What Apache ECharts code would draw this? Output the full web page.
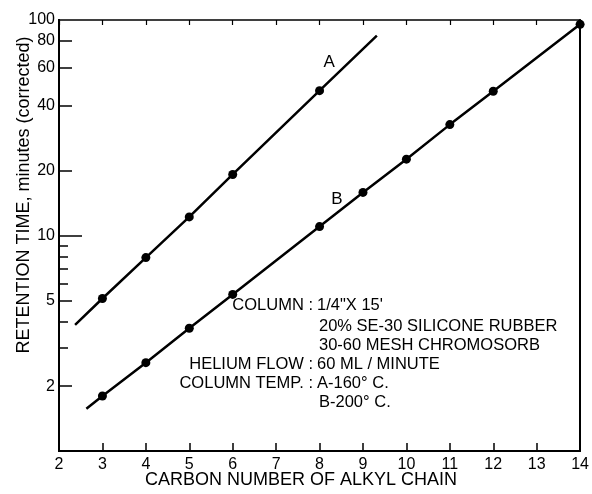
<!DOCTYPE html>
<html><head><meta charset="utf-8">
<script src="https://cdn.jsdelivr.net/npm/echarts@6/dist/echarts.min.js"></script>
<style>html,body{margin:0;padding:0;background:#fff}#c{width:592px;height:494px}</style>
</head><body><div id="c"></div>
<script>
// ---- data ----
const carbonA = [3, 4, 5, 6, 8];
const retentionA = [5.1, 7.9, 12.2, 19.2, 47];
const lineAStart = [2.37, 3.85];
const lineAEnd = [9.32, 84.6];

const carbonB = [3, 4, 5, 6, 8, 9, 10, 11, 12, 14];
const retentionB = [1.8, 2.57, 3.71, 5.33, 11.0, 15.85, 22.6, 32.7, 46.7, 95.5];
const lineBStart = [2.63, 1.57];

const yLabelValues = [2, 5, 10, 20, 40, 60, 80, 100];
const yMidTicks = [2, 5, 20, 40, 60, 80];
const yLongTicks = [10];
const yShortTicks = [3, 4, 6, 7, 8, 9];

const annoLabels = ['COLUMN :', 'HELIUM FLOW :', 'COLUMN TEMP. :'];
const annoValues = ['1/4"X 15\'', '20% SE-30 SILICONE RUBBER', '30-60 MESH CHROMOSORB', '60 ML / MINUTE', 'A-160° C.', 'B-200° C.'];

// ---- build ----
const FONT = 'Liberation Sans, Arial, sans-serif';
const AF = '16.5px ' + FONT;
function pts(xs, ys) { return xs.map((x, i) => [x, ys[i]]); }
const dataA = [{value: lineAStart, symbol: 'none'}].concat(pts(carbonA, retentionA)).concat([{value: lineAEnd, symbol: 'none'}]);
const dataB = [{value: lineBStart, symbol: 'none'}].concat(pts(carbonB, retentionB));

const chart = echarts.init(document.getElementById('c'), null, {renderer: 'canvas'});
function yAx(ticks, len, labels, pos) {
  return {
    type: 'log', logBase: 10, min: 1, max: 100, position: pos || 'left',
    axisLine: {show: true, lineStyle: {color: '#000', width: 2}},
    axisTick: {show: ticks.length > 0, inside: true, length: len, lineStyle: {color: '#000', width: 1.5}, customValues: ticks},
    axisLabel: labels ? {show: true, customValues: labels, color: '#000', fontSize: 16, fontFamily: FONT, margin: 4} : {show: false},
    splitLine: {show: false}, minorTick: {show: false}
  };
}
function txt(x, y, t, align) {
  return {type: 'text', x: x, y: y, style: {text: t, fill: '#000', font: AF, align: align, verticalAlign: 'middle'}};
}
const option = {
  animation: false,
  backgroundColor: '#fff',
  grid: {left: 59, right: 10, top: 20, bottom: 43},
  xAxis: [
    {type: 'value', min: 2, max: 14, interval: 1, position: 'bottom',
      axisLine: {show: true, lineStyle: {color: '#000', width: 2}},
      axisTick: {show: true, inside: true, length: 8, lineStyle: {color: '#000', width: 1.5}},
      axisLabel: {color: '#000', fontSize: 16, fontFamily: FONT, margin: 6},
      splitLine: {show: false}},
    {type: 'value', min: 2, max: 14, interval: 1, position: 'top',
      axisLine: {show: true, lineStyle: {color: '#000', width: 1.5}},
      axisTick: {show: true, inside: true, length: 5, lineStyle: {color: '#000', width: 1.2}},
      axisLabel: {show: false}, splitLine: {show: false}}
  ],
  yAxis: [
    yAx(yMidTicks, 13, yLabelValues),
    yAx(yLongTicks, 23, null),
    yAx(yShortTicks, 9, null),
    yAx([], 0, null, 'right')
  ],
  series: [
    {type: 'line', data: dataA, xAxisIndex: 0, yAxisIndex: 0,
      symbol: 'circle', symbolSize: 9, itemStyle: {color: '#000'},
      lineStyle: {color: '#000', width: 2.5}, silent: true,
      markPoint: {symbol: 'circle', symbolSize: 0, data: [{coord: [8.22, 63.8], value: 'A'}],
        label: {show: true, formatter: 'A', color: '#000', fontSize: 17, fontFamily: FONT}}},
    {type: 'line', data: dataB, xAxisIndex: 0, yAxisIndex: 0,
      symbol: 'circle', symbolSize: 9, itemStyle: {color: '#000'},
      lineStyle: {color: '#000', width: 2.5}, silent: true,
      markPoint: {symbol: 'circle', symbolSize: 0, data: [{coord: [8.4, 14.7], value: 'B'}],
        label: {show: true, formatter: 'B', color: '#000', fontSize: 17, fontFamily: FONT}}}
  ],
  graphic: [
    {type: 'text', x: 24, y: 195, rotation: Math.PI / 2,
      style: {text: 'RETENTION TIME, minutes (corrected)', fill: '#000', font: '18px ' + FONT, align: 'center', verticalAlign: 'middle'}},
    {type: 'text', x: 301, y: 480,
      style: {text: 'CARBON NUMBER OF ALKYL CHAIN', fill: '#000', font: '18px ' + FONT, align: 'center', verticalAlign: 'middle'}},
    txt(313, 305, annoLabels[0], 'right'),
    txt(313, 364, annoLabels[1], 'right'),
    txt(313, 383, annoLabels[2], 'right'),
    txt(317, 305, annoValues[0], 'left'),
    txt(319, 326, annoValues[1], 'left'),
    txt(319, 345, annoValues[2], 'left'),
    txt(317, 364, annoValues[3], 'left'),
    txt(317, 383, annoValues[4], 'left'),
    txt(319, 402, annoValues[5], 'left')
  ]
};
chart.setOption(option);
</script></body></html>
